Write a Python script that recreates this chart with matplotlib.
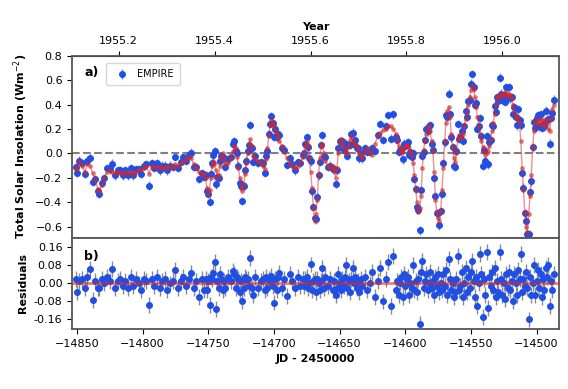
import numpy as np
import matplotlib
matplotlib.use("Agg")
import matplotlib.pyplot as plt

# observation times (JD - 2450000)
jd = [-14851, -14850, -14848, -14846, -14844, -14842, -14840, -14838, -14836, -14834,
      -14833, -14831, -14829, -14827, -14825, -14823, -14821, -14819, -14817, -14815,
      -14813, -14811, -14809, -14807, -14805, -14803, -14801, -14799, -14797, -14795,
      -14793, -14791, -14789, -14787, -14785, -14783, -14781, -14779, -14777, -14775,
      -14773, -14771, -14769, -14767, -14765, -14763, -14761, -14759, -14757, -14755,
      -14753, -14752, -14751, -14750, -14749, -14748, -14747, -14746, -14745, -14744,
      -14743, -14742, -14741, -14740, -14739, -14738, -14737, -14735, -14733, -14731,
      -14730, -14729, -14728, -14727, -14726, -14725, -14724, -14723, -14722, -14721,
      -14720, -14719, -14718, -14717, -14716, -14714, -14712, -14710, -14708, -14707,
      -14706, -14705, -14704, -14703, -14702, -14701, -14700, -14699, -14698, -14697,
      -14696, -14694, -14692, -14690, -14688, -14686, -14684, -14682, -14680, -14678,
      -14677, -14676, -14675, -14674, -14673, -14672, -14671, -14670, -14669, -14668,
      -14667, -14666, -14665, -14664, -14663, -14662, -14661, -14659, -14657, -14655,
      -14654, -14653, -14652, -14651, -14650, -14649, -14648, -14647, -14646, -14645,
      -14644, -14643, -14642, -14641, -14640, -14639, -14638, -14637, -14636, -14635,
      -14634, -14633, -14631, -14629, -14627, -14625, -14623, -14621, -14619, -14617,
      -14615, -14613, -14611, -14609, -14607, -14606, -14605, -14604, -14603, -14602,
      -14601, -14600, -14599, -14598, -14597, -14596, -14595, -14594, -14593, -14592,
      -14591, -14590, -14589, -14588, -14587, -14586, -14585, -14584, -14583, -14582,
      -14581, -14580, -14579, -14578, -14577, -14576, -14575, -14574, -14573, -14572,
      -14571, -14570, -14569, -14568, -14567, -14566, -14565, -14564, -14563, -14562,
      -14561, -14560, -14559, -14558, -14557, -14556, -14555, -14554, -14553, -14552,
      -14551, -14550, -14549, -14548, -14547, -14546, -14545, -14544, -14543, -14542,
      -14541, -14540, -14539, -14538, -14537, -14536, -14535, -14534, -14533, -14532,
      -14531, -14530, -14529, -14528, -14527, -14526, -14525, -14524, -14523, -14522,
      -14521, -14520, -14519, -14518, -14517, -14516, -14515, -14514, -14513, -14512,
      -14511, -14510, -14509, -14508, -14507, -14506, -14505, -14504, -14503, -14502,
      -14501, -14500, -14499, -14498, -14497, -14496, -14495, -14494, -14493, -14492,
      -14491, -14490, -14489, -14488, -14487]

# fitted model (red curve)
model = [-0.13, -0.12, -0.07, -0.10, -0.15, -0.09, -0.10, -0.16, -0.22, -0.29,
         -0.31, -0.26, -0.20, -0.15, -0.14, -0.15, -0.16, -0.15, -0.16, -0.17,
         -0.15, -0.16, -0.15, -0.17, -0.15, -0.13, -0.14, -0.12, -0.10, -0.17,
         -0.10, -0.11, -0.11, -0.12, -0.11, -0.12, -0.11, -0.10, -0.12, -0.09,
         -0.10, -0.08, -0.06, -0.05, -0.03, -0.04, -0.09, -0.12, -0.15, -0.18,
         -0.16, -0.20, -0.28, -0.34, -0.30, -0.20, -0.10, -0.06, -0.08, -0.14,
         -0.20, -0.18, -0.10, -0.04, 0.00, -0.05, -0.09, -0.08, -0.04, 0.02,
         0.06, 0.04, -0.03, -0.12, -0.20, -0.28, -0.31, -0.25, -0.17, -0.08,
         0.00, 0.08, 0.12, 0.06, -0.02, -0.05, -0.06, -0.08, -0.10, -0.13,
         -0.05, 0.04, 0.14, 0.23, 0.27, 0.26, 0.22, 0.18, 0.16, 0.13,
         0.10, 0.06, 0.01, -0.04, -0.08, -0.10, -0.12, -0.10, -0.07, -0.03,
         0.01, 0.06, 0.10, 0.07, -0.04, -0.15, -0.28, -0.45, -0.55, -0.50,
         -0.38, -0.18, -0.04, 0.06, 0.08, 0.00, -0.06, -0.10, -0.12, -0.10,
         -0.14, -0.20, -0.12, 0.00, 0.10, 0.12, 0.08, 0.04, 0.02, 0.00,
         0.00, 0.06, 0.11, 0.14, 0.10, 0.08, 0.08, 0.06, 0.03, 0.00,
         -0.02, -0.03, 0.01, 0.04, 0.01, -0.01, 0.08, 0.14, 0.17, 0.19,
         0.20, 0.22, 0.22, 0.20, 0.16, 0.10, 0.06, 0.03, 0.00, 0.01,
         0.04, 0.07, 0.06, 0.06, 0.04, 0.01, -0.01, -0.08, -0.18, -0.30,
         -0.40, -0.48, -0.45, -0.35, -0.12, 0.03, 0.10, 0.16, 0.21, 0.22,
         0.18, 0.10, 0.02, -0.15, -0.38, -0.48, -0.53, -0.55, -0.47, -0.30,
         -0.12, 0.10, 0.25, 0.35, 0.38, 0.30, 0.16, 0.05, -0.04, -0.07,
         0.00, 0.12, 0.15, 0.14, 0.13, 0.16, 0.22, 0.28, 0.34, 0.40,
         0.46, 0.52, 0.55, 0.53, 0.46, 0.38, 0.30, 0.22, 0.16, 0.10,
         0.05, 0.01, -0.01, 0.00, 0.02, 0.06, 0.12, 0.18, 0.25, 0.32,
         0.40, 0.45, 0.47, 0.48, 0.47, 0.49, 0.48, 0.49, 0.50, 0.47,
         0.49, 0.48, 0.45, 0.40, 0.34, 0.30, 0.28, 0.30, 0.25, 0.10,
         -0.12, -0.30, -0.48, -0.60, -0.64, -0.50, -0.35, -0.18, 0.05, 0.18,
         0.26, 0.28, 0.25, 0.24, 0.28, 0.27, 0.22, 0.25, 0.28, 0.24,
         0.20, 0.18, 0.28, 0.36, 0.40]

# residuals (data - model)
resid = [0.02, -0.04, 0.01, 0.02, -0.02, 0.03, 0.065, -0.075, 0.01, -0.02,
         -0.02, 0.02, 0.00, 0.03, 0.01, 0.065, -0.02, 0.01, 0.02, -0.01,
         0.01, -0.02, 0.03, -0.01, 0.02, 0.00, -0.03, 0.02, 0.01, -0.095,
         0.02, -0.01, 0.03, -0.02, 0.01, 0.02, -0.03, 0.00, 0.01, 0.06,
         -0.02, 0.01, 0.03, -0.01, 0.02, 0.045, -0.02, 0.01, -0.06, 0.02,
         -0.03, 0.02, -0.03, 0.01, -0.095, 0.03, 0.02, 0.045, 0.096, -0.114,
         0.01, -0.02, 0.04, 0.02, -0.03, 0.01, -0.02, 0.03, 0.01, 0.055,
         0.04, -0.02, 0.03, 0.02, -0.04, 0.01, -0.08, -0.02, 0.03, 0.02,
         0.02, -0.01, 0.114, -0.02, -0.05, 0.03, -0.02, 0.01, 0.02, -0.03,
         0.03, -0.02, 0.02, 0.01, 0.035, -0.01, -0.085, 0.02, -0.03, 0.03,
         0.047, -0.02, 0.02, -0.055, 0.04, 0.01, -0.02, 0.03, -0.01, 0.02,
         -0.01, 0.02, 0.03, -0.02, 0.00, 0.084, -0.03, 0.01, 0.02, -0.04,
         0.02, 0.00, -0.03, 0.01, 0.07, -0.02, 0.03, -0.01, 0.02, -0.03,
         0.01, -0.05, -0.02, 0.04, 0.00, -0.03, 0.02, -0.01, 0.03, 0.08,
         -0.02, 0.01, -0.04, 0.02, 0.07, 0.00, 0.03, -0.02, 0.01, -0.04,
         0.02, -0.01, 0.03, -0.03, 0.00, 0.05, -0.06, 0.01, 0.07, -0.08,
         0.02, 0.094, -0.10, 0.12, -0.03, 0.01, -0.05, 0.00, 0.03, -0.06,
         0.04, -0.01, 0.02, 0.03, -0.05, 0.00, -0.02, 0.08, -0.03, 0.01,
         -0.04, 0.02, -0.18, 0.05, 0.10, -0.02, 0.01, 0.04, -0.03, 0.00,
         0.05, -0.02, 0.01, -0.05, 0.03, -0.01, 0.04, -0.04, 0.00, -0.03,
         0.04, -0.01, 0.06, -0.05, 0.11, 0.02, -0.03, 0.00, -0.06, -0.04,
         0.02, 0.12, -0.03, -0.01, 0.05, -0.06, 0.00, 0.07, -0.04, 0.03,
         -0.02, 0.05, 0.10, 0.01, -0.06, 0.03, -0.10, 0.00, 0.13, 0.04,
         -0.15, 0.02, -0.05, 0.14, -0.11, 0.03, -0.01, 0.05, -0.03, 0.07,
         -0.06, 0.01, -0.04, 0.14, 0.02, -0.05, 0.00, -0.07, 0.04, -0.02,
         0.05, -0.03, 0.01, -0.08, 0.04, 0.00, -0.05, 0.06, 0.02, 0.13,
         -0.04, 0.02, -0.01, 0.05, -0.02, -0.16, 0.03, -0.05, 0.00, 0.08,
         -0.05, 0.01, 0.06, -0.02, 0.04, -0.06, 0.02, -0.03, 0.07, 0.03,
         0.08, -0.10, 0.01, -0.03, 0.04]

err = 0.035  # same error bar on every point

year_ticks = [1955.2, 1955.4, 1955.6, 1955.8, 1956.0]

jd = np.array(jd)
model = np.array(model)
resid = np.array(resid)
flux = model + resid

blue = '#1f4fe6'
red = '#d62728'

def jd2yr(x):
    return 2000.0 + (x + 2450000 - 2451545.0) / 365.25

def yr2jd(y):
    return (y - 2000.0) * 365.25 + 2451545.0 - 2450000

fig = plt.figure(figsize=(5.68, 3.89), dpi=100)
ax1 = fig.add_axes([0.127, 0.389, 0.857, 0.468])
ax2 = fig.add_axes([0.127, 0.154, 0.857, 0.235], sharex=ax1)

# top panel
ax1.axhline(0, color='gray', ls='--', lw=1.5, zorder=1)
ax1.errorbar(jd, flux, yerr=err, fmt='o', color=blue, ms=4, ecolor='#8a8a8a',
             elinewidth=1, zorder=2, label='EMPIRE')
ax1.plot(jd, model, '-o', color=red, ms=2.5, lw=1, alpha=0.5, zorder=3)
ax1.set_ylim(-0.69, 0.8)
ax1.set_yticks([-0.6, -0.4, -0.2, 0.0, 0.2, 0.4, 0.6, 0.8])
ax1.set_ylabel('Total Solar Insolation (Wm$^{-2}$)', fontsize=8, fontweight='bold')
ax1.tick_params(labelbottom=False, labelsize=8)
ax1.text(0.025, 0.89, 'a)', transform=ax1.transAxes, fontsize=9, fontweight='bold')
ax1.legend(loc='upper left', bbox_to_anchor=(0.06, 0.985), fontsize=7,
           handletextpad=0.6, borderpad=0.6)

sec = ax1.secondary_xaxis('top', functions=(jd2yr, yr2jd))
sec.set_xticks(year_ticks)
sec.set_xticklabels(['%.1f' % y for y in year_ticks])
sec.tick_params(labelsize=8)
sec.set_xlabel('Year', fontsize=8, fontweight='bold')

# bottom panel
ax2.errorbar(jd, resid, yerr=err, fmt='o', color=blue, ms=4, ecolor='#8a8a8a',
             elinewidth=1, zorder=2)
ax2.axhline(0, color=red, lw=2, alpha=0.6, zorder=3)
ax2.set_ylim(-0.203, 0.203)
ax2.set_yticks([-0.16, -0.08, 0.0, 0.08, 0.16])
ax2.set_yticklabels(['%.2f' % v if v != 0 else '0.00' for v in [-0.16, -0.08, 0.0, 0.08, 0.16]])
ax2.set_ylabel('Residuals', fontsize=8, fontweight='bold')
ax2.set_xlabel('JD - 2450000', fontsize=8, fontweight='bold')
ax2.tick_params(labelsize=8)
ax2.text(0.025, 0.76, 'b)', transform=ax2.transAxes, fontsize=9, fontweight='bold')

ax1.set_xlim(-14853.6, -14483)
ax2.set_xticks([-14850, -14800, -14750, -14700, -14650, -14600, -14550, -14500])

for a in (ax1, ax2):
    for s in a.spines.values():
        s.set_color('#555555')
        s.set_linewidth(1.3)

fig.savefig('out.png', dpi=100)
